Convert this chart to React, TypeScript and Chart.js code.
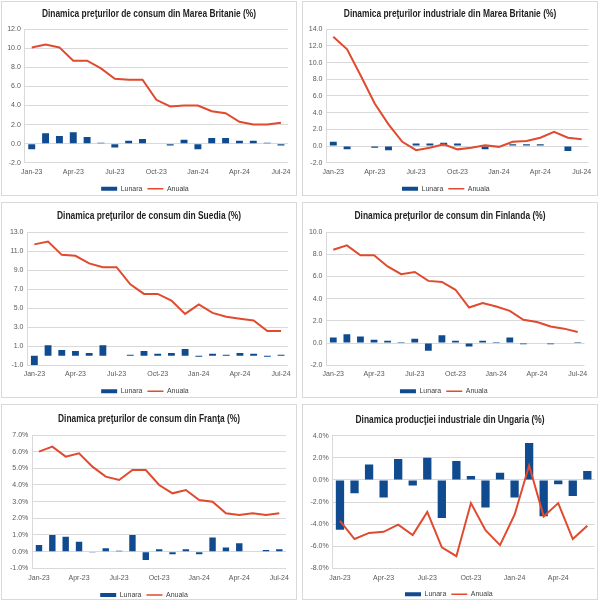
import React, { useEffect, useRef } from 'react';
import { Chart, registerables } from 'chart.js';

Chart.register(...registerables);

// ---------- categories ----------
const MONTHS = [
  'Jan-23', 'Feb-23', 'Mar-23', 'Apr-23', 'May-23', 'Jun-23', 'Jul-23', 'Aug-23', 'Sep-23',
  'Oct-23', 'Nov-23', 'Dec-23', 'Jan-24', 'Feb-24', 'Mar-24', 'Apr-24', 'May-24', 'Jun-24', 'Jul-24',
];
const MONTHS_HU = [
  'Jan-23', 'Feb-23', 'Mar-23', 'Apr-23', 'May-23', 'Jun-23', 'Jul-23', 'Aug-23', 'Sep-23',
  'Oct-23', 'Nov-23', 'Dec-23', 'Jan-24', 'Feb-24', 'Mar-24', 'Apr-24', 'May-24', 'Jun-24',
];

const SERIES_NAMES = ['Lunara', 'Anuala'];

// ---------- series values ----------
const UK_CPI_LUNARA = [-0.6, 1.1, 0.8, 1.2, 0.7, 0.1, -0.4, 0.3, 0.5, 0.0, -0.2, 0.4, -0.6, 0.6, 0.6, 0.3, 0.3, 0.1, -0.2];
const UK_CPI_ANUALA = [10.1, 10.4, 10.1, 8.7, 8.7, 7.9, 6.8, 6.7, 6.7, 4.6, 3.9, 4.0, 4.0, 3.4, 3.2, 2.3, 2.0, 2.0, 2.2];

const UK_PPI_LUNARA = [0.5, -0.4, 0.05, -0.2, -0.5, 0.0, 0.3, 0.3, 0.4, 0.3, 0.0, -0.4, 0.0, 0.2, 0.2, 0.2, 0.0, -0.6, 0.0];
const UK_PPI_ANUALA = [13.1, 11.6, 8.4, 5.1, 2.6, 0.5, -0.5, -0.2, 0.2, -0.4, -0.2, 0.1, -0.1, 0.5, 0.6, 1.0, 1.7, 1.0, 0.8];

const SE_CPI_LUNARA = [-1.0, 1.1, 0.6, 0.5, 0.3, 1.1, 0.0, 0.1, 0.5, 0.2, 0.3, 0.7, -0.1, 0.2, 0.1, 0.3, 0.2, -0.1, 0.1];
const SE_CPI_ANUALA = [11.7, 12.0, 10.6, 10.5, 9.7, 9.3, 9.3, 7.5, 6.5, 6.5, 5.8, 4.4, 5.4, 4.5, 4.1, 3.9, 3.7, 2.6, 2.6];

const FI_CPI_LUNARA = [0.5, 0.8, 0.6, 0.3, 0.2, 0.1, 0.4, -0.7, 0.7, 0.2, -0.3, 0.2, 0.1, 0.5, -0.1, 0.0, -0.1, 0.0, 0.1];
const FI_CPI_ANUALA = [8.4, 8.8, 7.9, 7.9, 6.9, 6.2, 6.4, 5.6, 5.5, 4.8, 3.2, 3.6, 3.3, 2.9, 2.1, 1.9, 1.5, 1.3, 1.0];

const FR_CPI_LUNARA = [0.4, 1.0, 0.9, 0.6, -0.05, 0.2, 0.05, 1.0, -0.5, 0.15, -0.15, 0.15, -0.15, 0.85, 0.25, 0.5, 0.03, 0.1, 0.15];
const FR_CPI_ANUALA = [6.0, 6.3, 5.7, 5.9, 5.1, 4.5, 4.3, 4.9, 4.9, 4.0, 3.5, 3.7, 3.1, 3.0, 2.3, 2.2, 2.3, 2.2, 2.3];

const HU_IND_LUNARA = [-4.5, -1.2, 1.4, -1.6, 1.9, -0.5, 2.0, -3.45, 1.7, 0.35, -2.5, 0.65, -1.6, 3.35, -3.3, -0.4, -1.45, 0.8];
const HU_IND_ANUALA = [-3.7, -5.35, -4.8, -4.7, -4.05, -5.0, -2.9, -6.1, -6.9, -2.1, -4.55, -5.9, -3.15, 1.3, -3.3, -2.1, -5.35, -4.15];

// ---------- styles ----------
const BAR_COLOR = '#0f4b8e';
const LINE_COLOR = '#e04a2e';
const GRID_COLOR = '#d9d9d9';
const TICK_COLOR = '#595959';
const TITLE_FONT = "'Liberation Sans', Arial, sans-serif";
const TEXT_FONT = "'Liberation Sans', Arial, sans-serif";

type Geo = {
  left: number; top: number; w: number; h: number;
  titleC: number; plotTop: number; plotBottom: number; plotLeft: number; plotRight: number;
  xLabC: number; legC: number; barPct: number;
};

type PanelProps = {
  title: string;
  labels: string[];
  lunara: number[];
  anuala: number[];
  yMin: number; yMax: number; yStep: number;
  pct: boolean;
  geo: Geo;
};

const EXT = 16;
const LEG_PAD = 5;
const TITLE_SIZE = 10.5;
const TITLE_SCALE_X = 0.8;
const TICK_SIZE = 7;

// narrow bold title (Arial Narrow look): Liberation Sans Bold compressed horizontally
const narrowTitlePlugin = {
  id: 'narrowTitle',
  afterDraw(chart: any, _args: any, opts: any) {
    if (!opts || !opts.text) return;
    const ctx = chart.ctx;
    ctx.save();
    ctx.font = `bold ${TITLE_SIZE}px ${TITLE_FONT}`;
    ctx.fillStyle = '#1f1f1f';
    ctx.textAlign = 'center';
    ctx.textBaseline = 'middle';
    ctx.translate(opts.cx, opts.cy);
    ctx.scale(TITLE_SCALE_X, 1);
    ctx.fillText(opts.text, 0, 0);
    ctx.restore();
  },
};

function Panel({ title, labels, lunara, anuala, yMin, yMax, yStep, pct, geo }: PanelProps) {
  const ref = useRef<HTMLCanvasElement | null>(null);
  const cw = geo.w - 2;
  const ch = geo.h - 2 + EXT;

  useEffect(() => {
    if (!ref.current) return;
    const legendTop = geo.legC - LEG_PAD - TICK_SIZE / 2;
    const chart = new Chart(ref.current, {
      type: 'bar',
      data: {
        labels,
        datasets: [
          {
            type: 'line',
            label: SERIES_NAMES[1],
            data: anuala,
            borderColor: LINE_COLOR,
            backgroundColor: LINE_COLOR,
            borderWidth: 2,
            pointRadius: 0,
            tension: 0,
            order: 0,
          } as any,
          {
            type: 'bar',
            label: SERIES_NAMES[0],
            data: lunara,
            backgroundColor: BAR_COLOR,
            borderWidth: 0,
            categoryPercentage: 1,
            barPercentage: geo.barPct,
            order: 1,
          },
        ],
      },
      plugins: [narrowTitlePlugin],
      options: {
        animation: false,
        responsive: false,
        maintainAspectRatio: false,
        devicePixelRatio: 1,
        layout: {
          padding: {
            top: geo.plotTop,
            left: 0,
            right: cw - geo.plotRight,
            bottom: ch - geo.legC - 13.5,
          },
        },
        plugins: {
          tooltip: { enabled: false },
          title: { display: false },
          narrowTitle: { text: title, cx: (geo.w - 2) / 2, cy: geo.titleC },
          legend: {
            display: true,
            position: 'bottom',
            labels: {
              color: '#404040',
              font: { family: TEXT_FONT, size: TICK_SIZE },
              usePointStyle: true,
              pointStyleWidth: 16,
              boxHeight: 4,
              padding: LEG_PAD,
              generateLabels: () => [
                {
                  text: SERIES_NAMES[0],
                  fillStyle: BAR_COLOR,
                  strokeStyle: BAR_COLOR,
                  lineWidth: 0,
                  pointStyle: 'rect',
                  hidden: false,
                  datasetIndex: 1,
                  fontColor: '#404040',
                } as any,
                {
                  text: SERIES_NAMES[1],
                  fillStyle: LINE_COLOR,
                  strokeStyle: LINE_COLOR,
                  lineWidth: 1.5,
                  pointStyle: 'line',
                  hidden: false,
                  datasetIndex: 0,
                  fontColor: '#404040',
                } as any,
              ],
            },
          },
        },
        scales: {
          x: {
            type: 'category',
            offset: true,
            grid: { display: false, drawTicks: false },
            border: { display: false },
            ticks: {
              autoSkip: false,
              maxRotation: 0,
              minRotation: 0,
              padding: geo.xLabC - geo.plotBottom - (TICK_SIZE * 1.2) / 2,
              color: TICK_COLOR,
              font: { family: TEXT_FONT, size: TICK_SIZE, lineHeight: 1.2 },
              callback: function (this: any, value: any, index: number) {
                return index % 3 === 0 ? this.getLabelForValue(value) : '';
              },
            },
            afterFit: (s: any) => {
              s.height = legendTop - geo.plotBottom;
              s.paddingLeft = 0;
              s.paddingRight = 0;
            },
          },
          y: {
            type: 'linear',
            min: yMin,
            max: yMax,
            grid: { color: GRID_COLOR, lineWidth: 1, drawTicks: false },
            border: { display: true, color: GRID_COLOR, width: 1 },
            ticks: {
              stepSize: yStep,
              padding: 4,
              color: TICK_COLOR,
              font: { family: TEXT_FONT, size: TICK_SIZE },
              callback: (v: any) => (pct ? Number(v).toFixed(1) + '%' : Number(v).toFixed(1)),
            },
            afterFit: (s: any) => {
              s.width = geo.plotLeft;
              s.paddingTop = 0;
              s.paddingBottom = 0;
            },
          },
        },
      } as any,
    });
    return () => chart.destroy();
  }, []);

  return (
    <div
      style={{
        position: 'absolute',
        left: geo.left,
        top: geo.top,
        width: geo.w,
        height: geo.h,
        boxSizing: 'border-box',
        border: '1px solid #d9d9d9',
        background: '#ffffff',
      }}
    >
      <canvas
        ref={ref}
        width={cw}
        height={ch}
        style={{ position: 'absolute', left: 0, top: 0, width: cw, height: ch }}
      />
    </div>
  );
}

const G1: Geo = { left: 1, top: 1, w: 296, h: 195, titleC: 12.5, plotTop: 27.3, plotBottom: 160.7, plotLeft: 22.8, plotRight: 285.9, xLabC: 170, legC: 186.7, barPct: 0.5 };
const G2: Geo = { left: 302, top: 1, w: 296, h: 195, titleC: 12.3, plotTop: 27.3, plotBottom: 160.7, plotLeft: 23.4, plotRight: 285.6, xLabC: 170, legC: 186.7, barPct: 0.5 };
const G3: Geo = { left: 1, top: 202, w: 296, h: 196, titleC: 13.3, plotTop: 29, plotBottom: 162.3, plotLeft: 25.5, plotRight: 285.9, xLabC: 171, legC: 188.3, barPct: 0.5 };
const G4: Geo = { left: 302, top: 202, w: 296, h: 196, titleC: 13.3, plotTop: 29, plotBottom: 162.3, plotLeft: 23.5, plotRight: 281.5, xLabC: 171, legC: 188.3, barPct: 0.5 };
const G5: Geo = { left: 1, top: 404, w: 296, h: 196, titleC: 14.3, plotTop: 30, plotBottom: 163.3, plotLeft: 30.3, plotRight: 284, xLabC: 172.7, legC: 190, barPct: 0.48 };
const G6: Geo = { left: 302, top: 404, w: 296, h: 196, titleC: 15, plotTop: 30.7, plotBottom: 163.3, plotLeft: 29.7, plotRight: 291.6, xLabC: 172.7, legC: 189.3, barPct: 0.57 };

export default function App() {
  return (
    <div style={{ position: 'absolute', left: 0, top: 0, width: 600, height: 601, background: '#ffffff', overflow: 'hidden' }}>
      <Panel title="Dinamica preţurilor de consum din Marea Britanie (%)" labels={MONTHS} lunara={UK_CPI_LUNARA} anuala={UK_CPI_ANUALA} yMin={-2} yMax={12} yStep={2} pct={false} geo={G1} />
      <Panel title="Dinamica preţurilor industriale din Marea Britanie (%)" labels={MONTHS} lunara={UK_PPI_LUNARA} anuala={UK_PPI_ANUALA} yMin={-2} yMax={14} yStep={2} pct={false} geo={G2} />
      <Panel title="Dinamica preţurilor de consum din Suedia (%)" labels={MONTHS} lunara={SE_CPI_LUNARA} anuala={SE_CPI_ANUALA} yMin={-1} yMax={13} yStep={2} pct={false} geo={G3} />
      <Panel title="Dinamica preţurilor de consum din Finlanda (%)" labels={MONTHS} lunara={FI_CPI_LUNARA} anuala={FI_CPI_ANUALA} yMin={-2} yMax={10} yStep={2} pct={false} geo={G4} />
      <Panel title="Dinamica preţurilor de consum din Franţa (%)" labels={MONTHS} lunara={FR_CPI_LUNARA} anuala={FR_CPI_ANUALA} yMin={-1} yMax={7} yStep={1} pct={true} geo={G5} />
      <Panel title="Dinamica producţiei industriale din Ungaria (%)" labels={MONTHS_HU} lunara={HU_IND_LUNARA} anuala={HU_IND_ANUALA} yMin={-8} yMax={4} yStep={2} pct={true} geo={G6} />
    </div>
  );
}
